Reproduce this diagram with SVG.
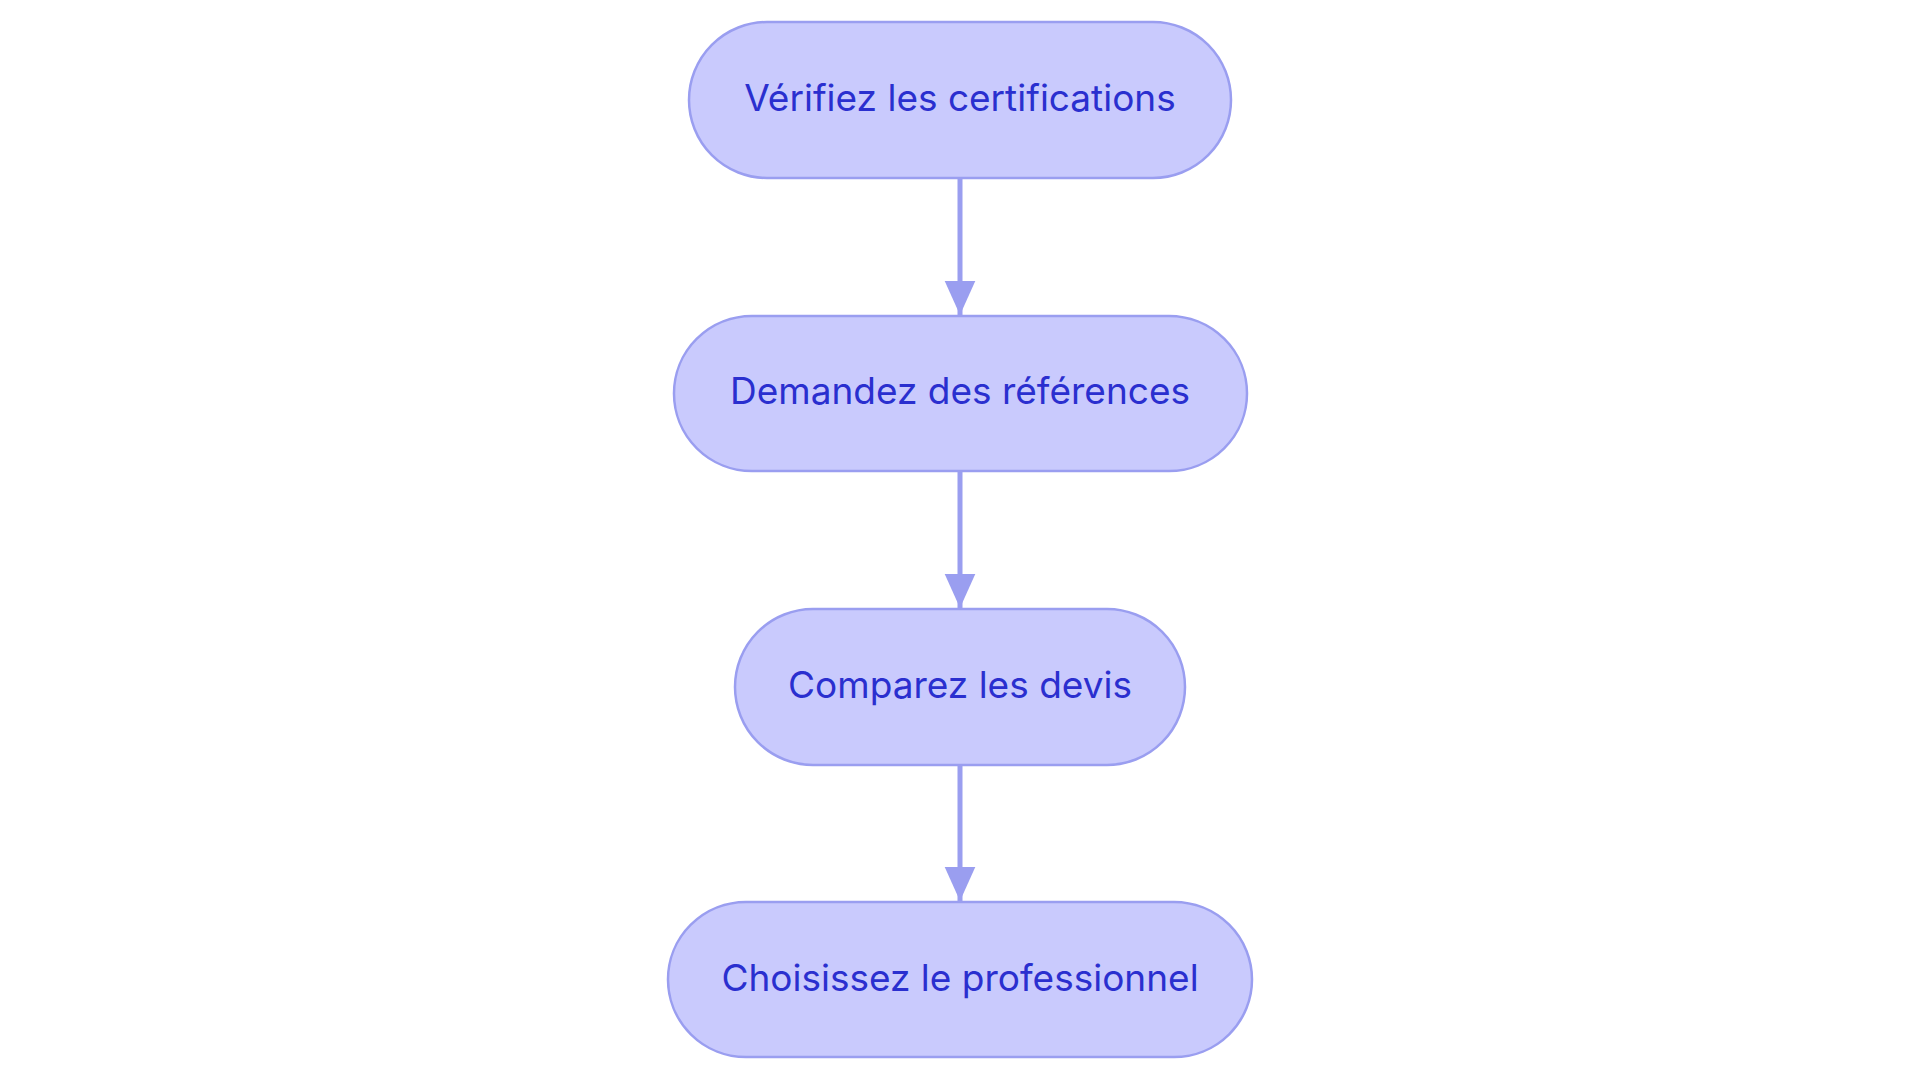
<svg xmlns="http://www.w3.org/2000/svg" width="1920" height="1083" viewBox="0 0 1920 1083">
<style>
.n{fill:#c9cafd;stroke:#9a9ef0;stroke-width:2.5}
.t{font-family:Inter,"Liberation Sans",sans-serif;font-size:37px;fill:#2a2fcf;text-anchor:middle;dominant-baseline:central}
.e{stroke:#9a9ef0;stroke-width:5;fill:none}
</style>
<defs>
<marker id="b" viewBox="0 0 10 10" refX="10" refY="5" markerWidth="34" markerHeight="34" markerUnits="userSpaceOnUse" orient="auto"><path d="M0,0.5L10,5L0,9.5z" fill="#9a9ef0"/></marker></defs>
<rect width="1920" height="1083" fill="#fff"/>
<g id="edges">
<line class="e" x1="960" y1="178" x2="960" y2="315" marker-end="url(#b)"/>
<line class="e" x1="960" y1="471" x2="960" y2="608" marker-end="url(#b)"/>
<line class="e" x1="960" y1="765" x2="960" y2="901" marker-end="url(#b)"/>
</g>
<g id="n1"><rect class="n" x="689" y="22" width="542" height="156" rx="78"/><text class="t" x="960" y="97">Vérifiez les certifications</text></g>
<g id="n2"><rect class="n" x="674" y="316" width="573" height="155" rx="78"/><text class="t" x="960" y="390">Demandez des références</text></g>
<g id="n3"><rect class="n" x="735" y="609" width="450" height="156" rx="78"/><text class="t" x="960" y="684">Comparez les devis</text></g>
<g id="n4"><rect class="n" x="668" y="902" width="584" height="155" rx="78"/><text class="t" x="960" y="977">Choisissez le professionnel</text></g>
</svg>
